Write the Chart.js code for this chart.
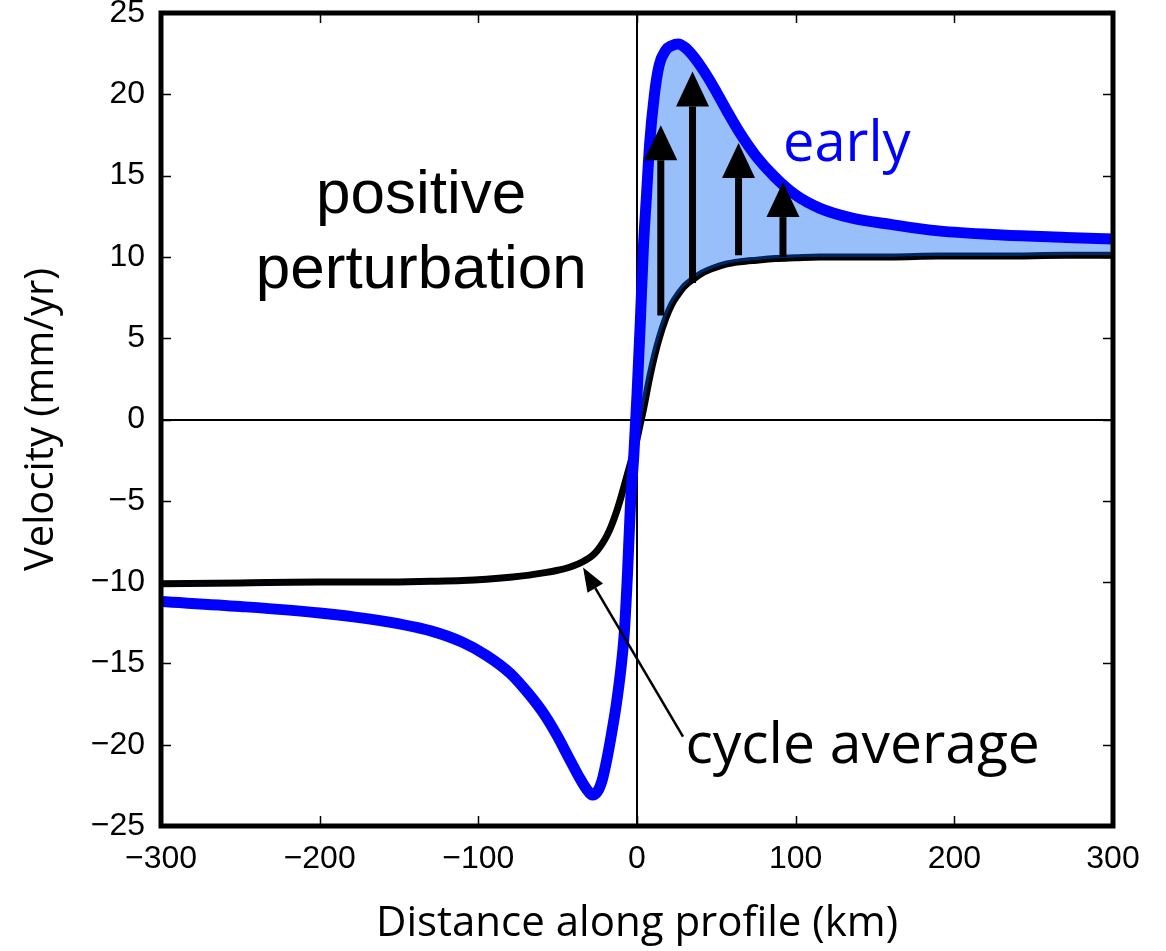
<!DOCTYPE html>
<html>
<head>
<meta charset="utf-8">
<script src="https://cdn.jsdelivr.net/npm/chart.js@4.4.1/dist/chart.umd.min.js"></script>
<style>
  html, body { margin: 0; padding: 0; background: #fff; }
  #grafico { display: block; }
</style>
</head>
<body>
<canvas id="grafico" width="1166" height="951"></canvas>
<script>
// distancia a lo largo del perfil (km), eje X
const distancia = [-300, -250, -200, -160, -130, -110, -95, -80, -68, -58, -50, -43, -37, -32, -28, -25, -22, -19, -16, -13, -10, -8, -6, -4, -2, 0, 2, 4, 6, 8, 11, 14, 18, 22, 26, 30, 35, 41, 48, 56, 65, 75, 87, 100, 115, 135, 160, 190, 230, 270, 300];

// curva azul ("early")
const velTemprana = [-11.2, -11.5, -11.9, -12.4, -13.0, -13.7, -14.5, -15.6, -16.9, -18.2, -19.5, -20.8, -21.9, -22.7, -23.1, -22.9, -22.2, -20.9, -19.3, -17.5, -15.2, -13.1, -9.5, -5.0, -2.2, 1.5, 5.8, 10.5, 13.8, 17.0, 20.0, 21.8, 22.7, 23.0, 23.1, 22.9, 22.4, 21.6, 20.5, 19.1, 17.6, 16.2, 14.9, 13.8, 13.0, 12.4, 12.0, 11.6, 11.35, 11.2, 11.1];

// curva negra ("cycle average")
const velPromedio = [-10.1, -10.05, -10.0, -10.0, -9.95, -9.9, -9.82, -9.7, -9.57, -9.42, -9.27, -9.1, -8.88, -8.63, -8.35, -8.05, -7.65, -7.15, -6.5, -5.7, -4.75, -4.05, -3.35, -2.65, -1.95, -1.2, -0.3, 0.6, 1.6, 2.6, 3.9, 5.0, 6.2, 7.1, 7.7, 8.2, 8.6, 9.0, 9.3, 9.55, 9.7, 9.8, 9.9, 9.95, 10.0, 10.0, 10.0, 10.05, 10.05, 10.1, 10.1];

// etiquetas de los ejes
const ticksX = [-300, -200, -100, 0, 100, 200, 300];
const ticksY = [-25, -20, -15, -10, -5, 0, 5, 10, 15, 20, 25];

// flechas negras verticales (km, base, punta)
const flechasX = [15, 35, 64, 92];
const flechasBase = [6.4, 8.4, 10.1, 10.0];
const flechasPunta = [18.1, 21.4, 17.0, 14.6];

const ctx = document.getElementById('grafico').getContext('2d');

function flecha(c, x0, y0, x1, y1, ancho, largoPunta, anchoPunta) {
    const ang = Math.atan2(y1 - y0, x1 - x0);
    const bx = x1 - Math.cos(ang) * largoPunta;
    const by = y1 - Math.sin(ang) * largoPunta;
    c.beginPath();
    c.moveTo(x0, y0);
    c.lineTo(bx, by);
    c.lineWidth = ancho;
    c.strokeStyle = '#000';
    c.stroke();
    const px = -Math.sin(ang) * anchoPunta / 2;
    const py = Math.cos(ang) * anchoPunta / 2;
    c.beginPath();
    c.moveTo(x1, y1);
    c.lineTo(bx + px, by + py);
    c.lineTo(bx - px, by - py);
    c.closePath();
    c.fillStyle = '#000';
    c.fill();
}

// marco, ticks hacia adentro, flechas y textos
const extras = {
    id: 'extras',
    afterDraw(chart) {
        const c = chart.ctx;
        const a = chart.chartArea;
        const sx = chart.scales.x;
        const sy = chart.scales.y;
        c.save();

        // flechas de la perturbacion
        for (let i = 0; i < flechasX.length; i++) {
            const px = sx.getPixelForValue(flechasX[i]);
            flecha(c, px, sy.getPixelForValue(flechasBase[i]), px, sy.getPixelForValue(flechasPunta[i]), 7, 35, 33);
        }

        // flecha delgada de "cycle average"
        flecha(c, sx.getPixelForValue(29), sy.getPixelForValue(-19.5), sx.getPixelForValue(-34), sy.getPixelForValue(-9.1), 2.5, 24, 18);

        // ticks hacia adentro en los cuatro lados
        c.strokeStyle = '#000';
        c.lineWidth = 1.5;
        c.beginPath();
        ticksX.slice(1, -1).forEach(v => {
            const px = Math.round(sx.getPixelForValue(v)) + 0.5;
            c.moveTo(px, a.bottom); c.lineTo(px, a.bottom - 10);
            c.moveTo(px, a.top); c.lineTo(px, a.top + 10);
        });
        ticksY.slice(1, -1).forEach(v => {
            const py = Math.round(sy.getPixelForValue(v)) + 0.5;
            c.moveTo(a.left, py); c.lineTo(a.left + 10, py);
            c.moveTo(a.right, py); c.lineTo(a.right - 10, py);
        });
        c.stroke();

        // marco grueso
        c.lineWidth = 5;
        c.strokeRect(a.left, a.top, a.right - a.left, a.bottom - a.top);

        // textos
        c.fillStyle = '#000';
        c.textAlign = 'center';
        c.textBaseline = 'alphabetic';
        c.font = '62px "Liberation Sans", Arial, sans-serif';
        c.fillText('positive', sx.getPixelForValue(-136), sy.getPixelForValue(12.7));
        c.fillText('perturbation', sx.getPixelForValue(-136), sy.getPixelForValue(8.1));

        c.textAlign = 'left';
        c.font = '56px "Open Sans", sans-serif';
        c.fillStyle = '#0000ff';
        c.fillText('early', sx.getPixelForValue(92), sy.getPixelForValue(15.9));
        c.fillStyle = '#000';
        c.font = '57px "Open Sans", sans-serif';
        c.fillText('cycle average', sx.getPixelForValue(30.5), sy.getPixelForValue(-21.1));

        c.restore();
    }
};

const grafico = new Chart(ctx, {
    type: 'line',
    data: {
        labels: distancia,
        datasets: [{
            label: 'early',
            data: distancia.map((d, i) => ({ x: d, y: velTemprana[i] })),
            borderColor: '#0000ff',
            borderWidth: 11,
            pointRadius: 0,
            cubicInterpolationMode: 'monotone',
            borderJoinStyle: 'round',
            clip: 0,
            fill: { target: 1, above: 'rgba(0, 95, 242, 0.4)', below: 'rgba(0,0,0,0)' }
        }, {
            label: 'cycle average',
            data: distancia.map((d, i) => ({ x: d, y: velPromedio[i] })),
            borderColor: '#000000',
            borderWidth: 7,
            pointRadius: 0,
            cubicInterpolationMode: 'monotone',
            borderJoinStyle: 'round',
            clip: 0,
            fill: false
        }]
    },
    options: {
        responsive: false,
        animation: false,
        layout: { autoPadding: false, padding: { top: 13, right: 53, left: 0, bottom: 0 } },
        plugins: { legend: { display: false }, tooltip: { enabled: false } },
        scales: {
            x: {
                type: 'linear',
                min: -300,
                max: 300,
                afterBuildTicks: s => { s.ticks = ticksX.map(v => ({ value: v })); },
                afterFit: s => { s.height = 125; s.paddingLeft = 0; s.paddingRight = 0; },
                border: { display: false },
                grid: {
                    drawTicks: false,
                    lineWidth: 2,
                    color: c => (c.tick && c.tick.value === 0) ? '#000' : 'rgba(0,0,0,0)'
                },
                ticks: {
                    padding: 14,
                    maxRotation: 0,
                    color: '#000',
                    font: { family: '"Liberation Sans", Arial, sans-serif', size: 32 },
                    callback: v => String(v).replace('-', '\u2212')
                },
                title: {
                    display: true,
                    text: 'Distance along profile (km)',
                    color: '#000',
                    font: { family: '"Open Sans", sans-serif', size: 42 },
                    padding: { top: 0, bottom: 2 }
                }
            },
            y: {
                min: -25,
                max: 25,
                afterBuildTicks: s => { s.ticks = ticksY.map(v => ({ value: v })); },
                afterFit: s => { s.width = 161; s.paddingTop = 0; s.paddingBottom = 0; },
                border: { display: false },
                grid: {
                    drawTicks: false,
                    lineWidth: 2,
                    color: c => (c.tick && c.tick.value === 0) ? '#000' : 'rgba(0,0,0,0)'
                },
                ticks: {
                    padding: 16,
                    color: '#000',
                    font: { family: '"Liberation Sans", Arial, sans-serif', size: 32 },
                    callback: v => String(v).replace('-', '\u2212')
                },
                title: {
                    display: true,
                    text: 'Velocity (mm/yr)',
                    color: '#000',
                    font: { family: '"Open Sans", sans-serif', size: 40 },
                    padding: { top: 18, bottom: 0 }
                }
            }
        }
    },
    plugins: [extras]
});
</script>
</body>
</html>
